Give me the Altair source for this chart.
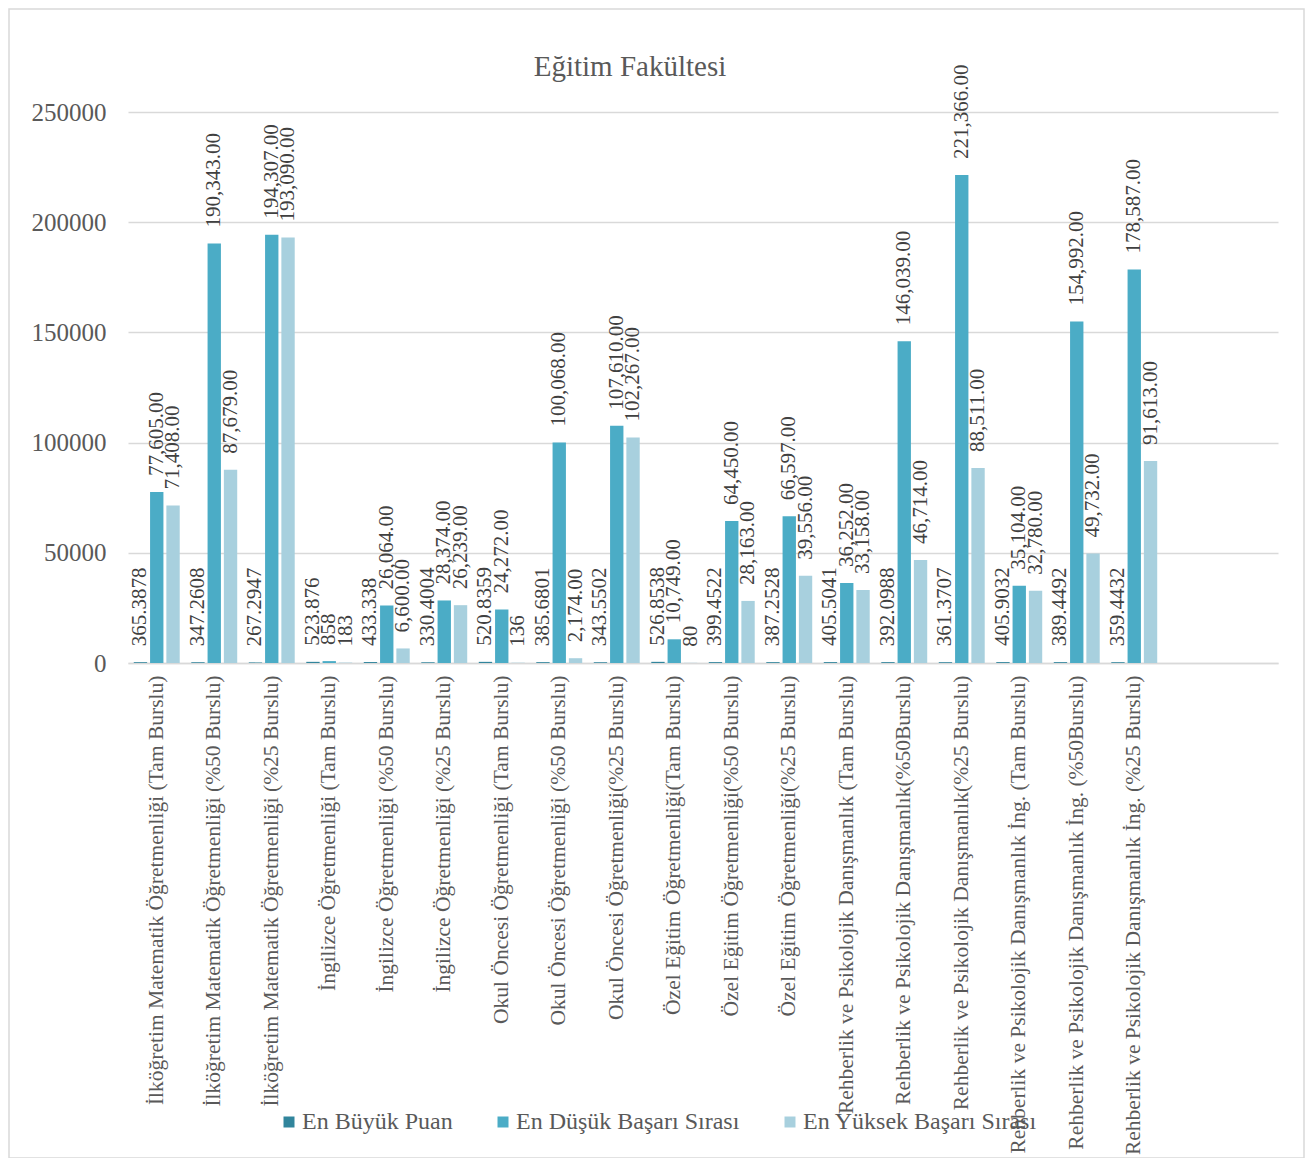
import altair as alt
import pandas as pd

categories = [
    "İlköğretim Matematik Öğretmenliği (Tam Burslu)",
    "İlköğretim Matematik Öğretmenliği (%50 Burslu)",
    "İlköğretim Matematik Öğretmenliği (%25 Burslu)",
    "İngilizce Öğretmenliği  (Tam Burslu)",
    "İngilizce Öğretmenliği  (%50 Burslu)",
    "İngilizce Öğretmenliği (%25 Burslu)",
    "Okul Öncesi Öğretmenliği (Tam Burslu)",
    "Okul Öncesi Öğretmenliği (%50 Burslu)",
    "Okul Öncesi Öğretmenliği(%25 Burslu)",
    "Özel Eğitim Öğretmenliği(Tam Burslu)",
    "Özel Eğitim Öğretmenliği(%50 Burslu)",
    "Özel Eğitim Öğretmenliği(%25 Burslu)",
    "Rehberlik ve Psikolojik Danışmanlık (Tam Burslu)",
    "Rehberlik ve Psikolojik Danışmanlık(%50Burslu)",
    "Rehberlik ve Psikolojik Danışmanlık(%25 Burslu)",
    "Rehberlik ve Psikolojik Danışmanlık İng. (Tam Burslu)",
    "Rehberlik ve Psikolojik Danışmanlık İng. (%50Burslu)",
    "Rehberlik ve Psikolojik Danışmanlık İng. (%25 Burslu)",
]
blank_slots = [" ", "  "]

en_buyuk_puan = [365.3878, 347.2608, 267.2947, 523.876, 433.338, 330.4004,
                 520.8359, 385.6801, 343.5502, 526.8538, 399.4522, 387.2528,
                 405.5041, 392.0988, 361.3707, 405.9032, 389.4492, 359.4432]
en_dusuk_basari = [77605, 190343, 194307, 858, 26064, 28374,
                   24272, 100068, 107610, 10749, 64450, 66597,
                   36252, 146039, 221366, 35104, 154992, 178587]
en_yuksek_basari = [71408, 87679, 193090, 183, 6600, 26239,
                    136, 2174, 102267, 80, 28163, 39556,
                    33158, 46714, 88511, 32780, 49732, 91613]

series = ["En Büyük Puan", "En Düşük Başarı Sırası", "En Yüksek Başarı Sırası"]
colors = ["#31859C", "#4BACC6", "#A8D0DE"]
y_ticks = [0, 50000, 100000, 150000, 200000, 250000]
title_text = "Eğitim Fakültesi"

FONT = "Liberation Serif"
TXT = "#595959"

rows = []
for i, c in enumerate(categories):
    for s, vals in zip(series, [en_buyuk_puan, en_dusuk_basari, en_yuksek_basari]):
        v = vals[i]
        if s == series[0] or v < 1000:
            lab = str(v)
        else:
            lab = f"{v:,.2f}"
        rows.append({"cat": c, "series": s, "value": v, "label": lab})
df = pd.DataFrame(rows)

x_enc = alt.X(
    "cat:N",
    scale=alt.Scale(domain=categories + blank_slots, paddingInner=0.15, paddingOuter=0.075),
    axis=alt.Axis(title=None, labelAngle=270, labelFontSize=21.5, labelFont=FONT,
                  labelColor=TXT, labelPadding=12, labelLimit=0, ticks=False,
                  domainColor="#d9d9d9", domainWidth=1.5),
)
xoff_enc = alt.XOffset("series:N", sort=series,
                       scale=alt.Scale(domain=series, paddingInner=0.18, paddingOuter=0.09))
y_enc = alt.Y(
    "value:Q",
    scale=alt.Scale(domain=[0, 250000], nice=False),
    axis=alt.Axis(title=None, values=y_ticks, format="d", labelFontSize=25,
                  labelFont=FONT, labelColor=TXT, labelPadding=22, ticks=False,
                  domain=False, gridColor="#d9d9d9", gridWidth=1.5),
)

base = alt.Chart(df)

bars = base.mark_bar().encode(
    x=x_enc,
    xOffset=xoff_enc,
    y=y_enc,
    color=alt.Color(
        "series:N",
        scale=alt.Scale(domain=series, range=colors),
        legend=alt.Legend(orient="none", legendX=149, legendY=998, direction="horizontal",
                          columns=3, title=None, labelFontSize=24, labelFont=FONT,
                          labelColor=TXT, symbolType="square", symbolSize=121,
                          symbolStrokeWidth=0, columnPadding=38, labelLimit=0,
                          labelOffset=1),
    ),
)

labels = base.mark_text(angle=270, align="left", baseline="middle", dx=16,
                        fontSize=21, font=FONT, color="#404040").encode(
    x=x_enc,
    xOffset=xoff_enc,
    y=y_enc,
    text="label:N",
)

border = alt.Chart(pd.DataFrame({"a": [0]})).mark_rect(
    fillOpacity=0, stroke="#d9d9d9", strokeWidth=1.5
).encode(
    x=alt.value(-119), x2=alt.value(1176), y=alt.value(-103), y2=alt.value(1046)
)

title = alt.Chart(pd.DataFrame({"t": [title_text]})).mark_text(
    font=FONT, fontSize=29, color=TXT, align="center", baseline="middle"
).encode(
    text="t:N", x=alt.value(502), y=alt.value(-45)
)

chart = alt.layer(border, bars, labels, title).properties(
    width=1150,
    height=551,
    padding={"left": 120, "top": 104, "right": 28, "bottom": 495},
    autosize=alt.AutoSizeParams(type="none"),
).configure_view(strokeWidth=0)

chart.save("out.html", embed_options={"renderer": "svg", "actions": False})
